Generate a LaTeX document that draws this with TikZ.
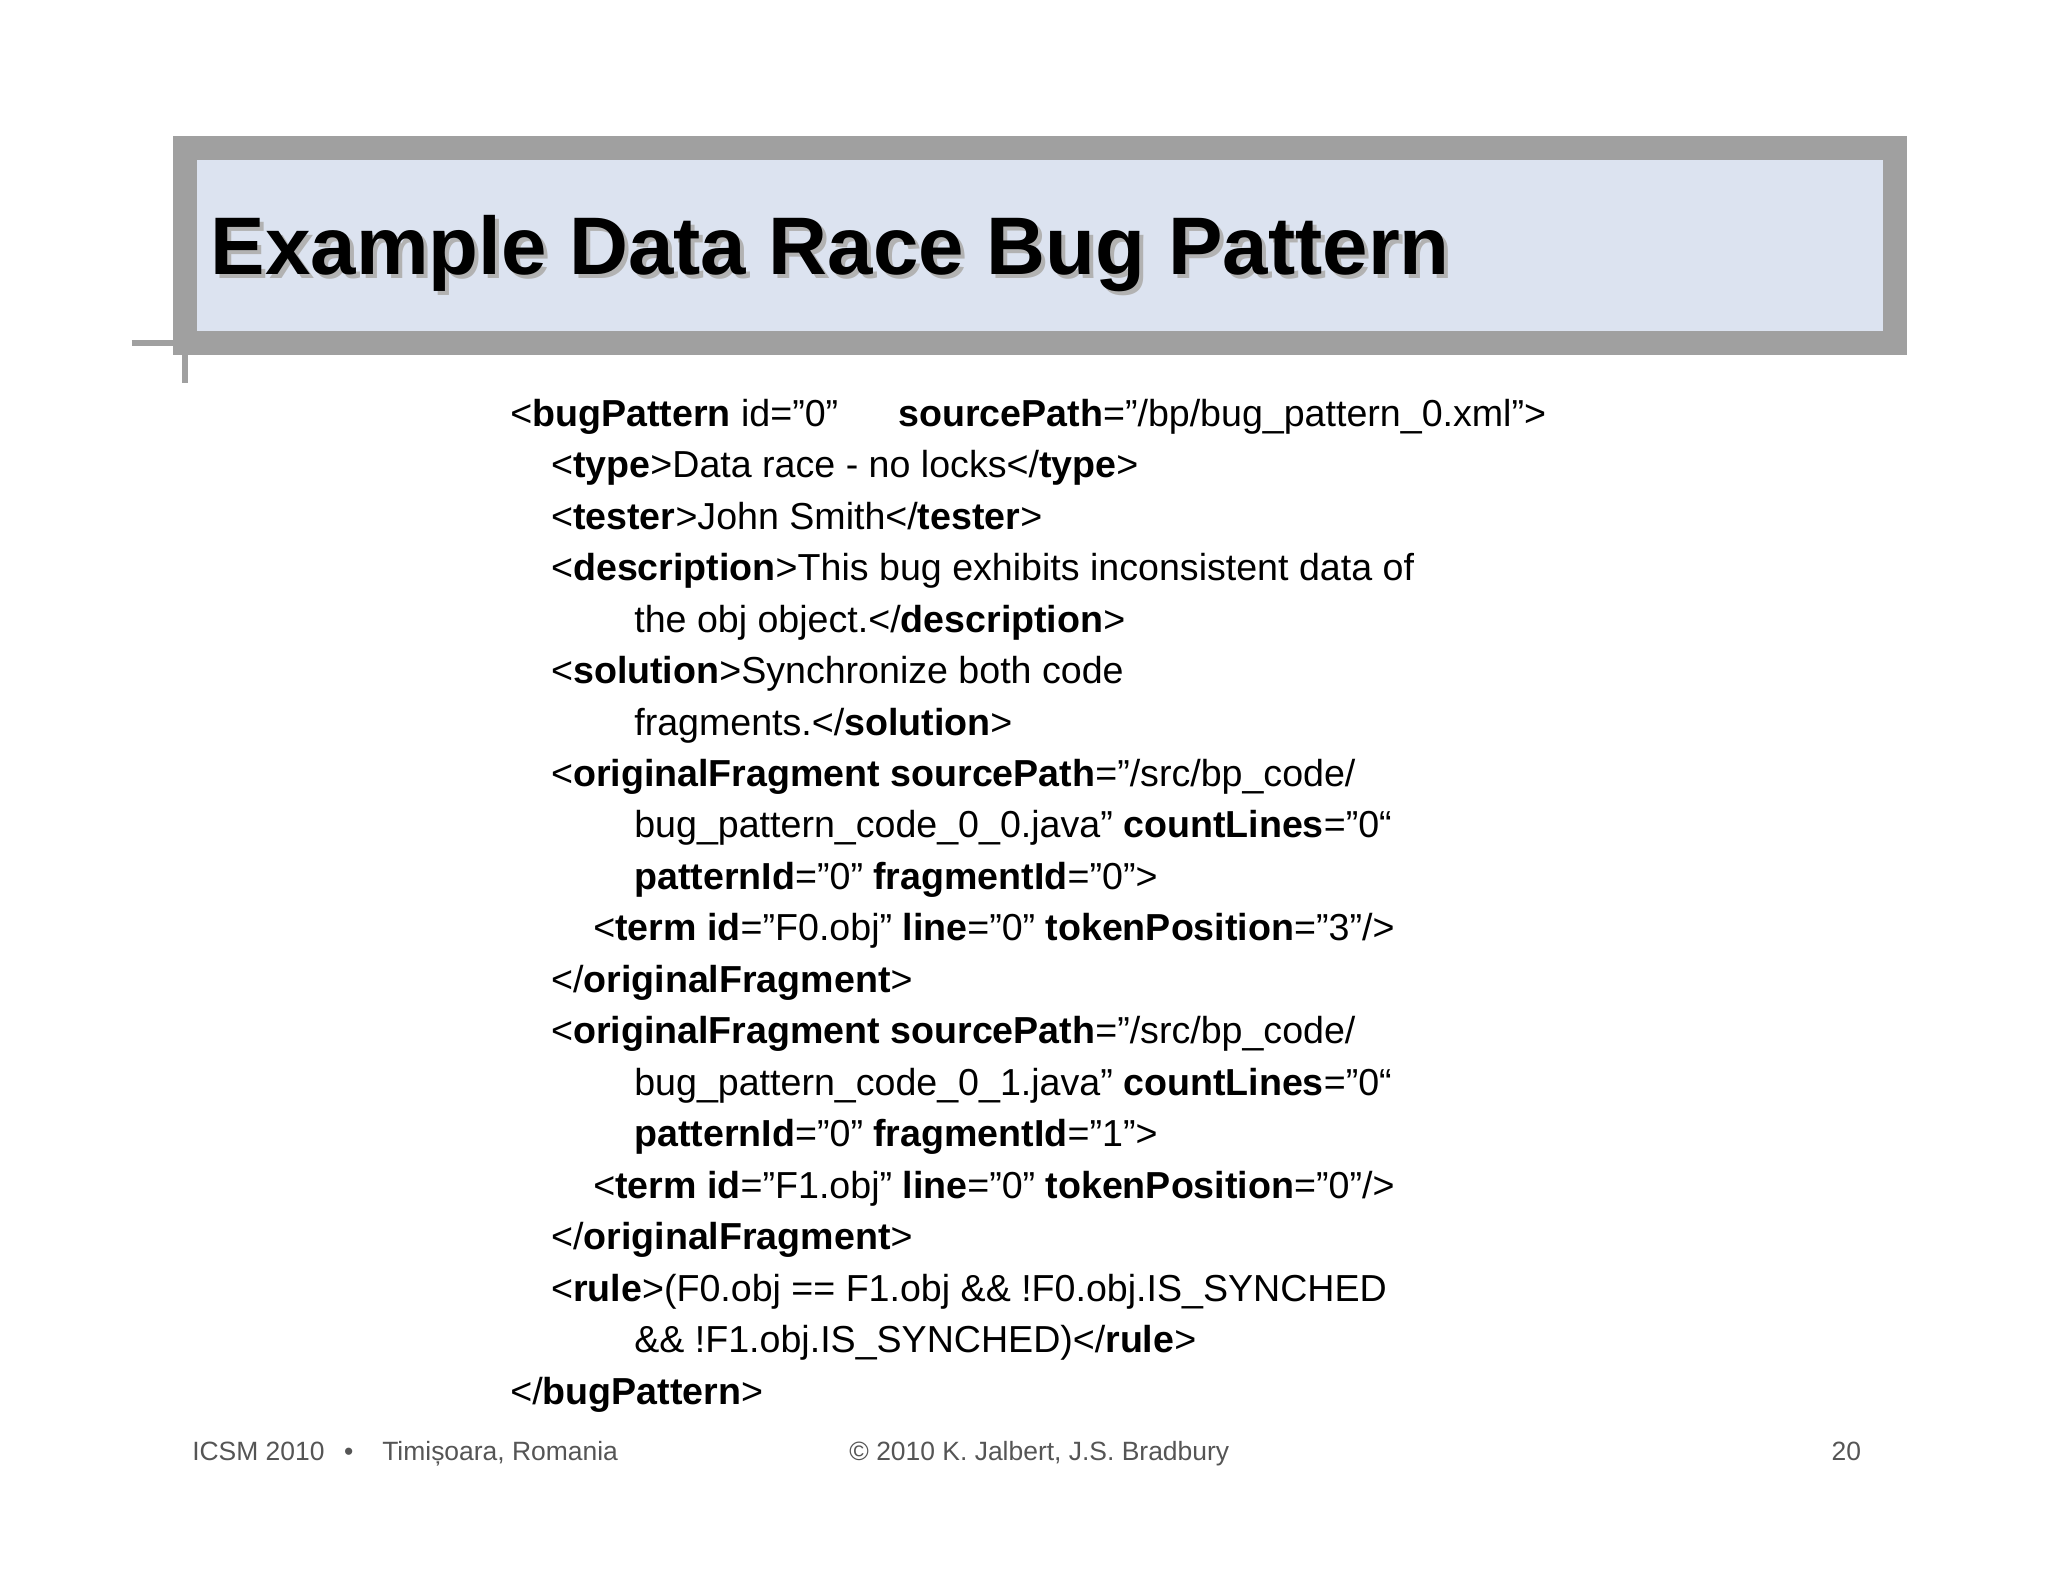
\documentclass[tikz,border=0pt]{standalone}
\usepackage{fontspec}
\setmainfont{Liberation Sans}
\definecolor{titlefill}{HTML}{DCE3F0}
\definecolor{framegray}{HTML}{A0A0A0}
\definecolor{foot}{HTML}{555555}
\begin{document}
\begin{tikzpicture}[x=0.01cm,y=-0.01cm,
  code/.style={anchor=base west,inner sep=0pt,font=\fontsize{8.1pt}{10pt}\selectfont},
  foottext/.style={anchor=base west,inner sep=0pt,text=foot,font=\fontsize{5.7pt}{7pt}\selectfont}]
\useasboundingbox[fill=white] (0,0) rectangle (1552,1199);
\draw[framegray,line width=3\pgflinewidth*1.2,fill=titlefill] (140,112) rectangle (1436,260);
\draw[framegray,line width=1.2mm*0.35] (100,260) -- (1436,260);
\draw[framegray,line width=1.2mm*0.35] (140,112) -- (140,290);
\node[anchor=base west,inner sep=0pt,text=gray!60,font=\bfseries\fontsize{17.6pt}{20pt}\selectfont] at (162,211) {Example Data Race Bug Pattern};
\node[anchor=base west,inner sep=0pt,font=\bfseries\fontsize{17.6pt}{20pt}\selectfont] (title) at (159,208) {Example Data Race Bug Pattern};
\node[code] (l0) at (386,323) {<\textbf{bugPattern} id="0"\hspace{1.6em}\textbf{sourcePath}="/bp/bug\_pattern\_0.xml">};
\node[code] (l1) at (417,362) {<\textbf{type}>Data race - no locks</\textbf{type}>};
\node[code] (l2) at (417,401) {<\textbf{tester}>John Smith</\textbf{tester}>};
\node[code] (l3) at (417,440) {<\textbf{description}>This bug exhibits inconsistent data of};
\node[code] (l4) at (480,479) {the obj object.</\textbf{description}>};
\node[code] (l5) at (417,518) {<\textbf{solution}>Synchronize both code};
\node[code] (l6) at (480,557) {fragments.</\textbf{solution}>};
\node[code] (l7) at (417,596) {<\textbf{originalFragment sourcePath}="/src/bp\_code/};
\node[code] (l8) at (480,635) {bug\_pattern\_code\_0\_0.java" \textbf{countLines}="0“};
\node[code] (l9) at (480,674) {\textbf{patternId}="0" \textbf{fragmentId}="0">};
\node[code] (l10) at (449,713) {<\textbf{term id}="F0.obj" \textbf{line}="0" \textbf{tokenPosition}="3"/>};
\node[code] (l11) at (417,752) {</\textbf{originalFragment}>};
\node[code] (l12) at (417,791) {<\textbf{originalFragment sourcePath}="/src/bp\_code/};
\node[code] (l13) at (480,830) {bug\_pattern\_code\_0\_1.java" \textbf{countLines}="0“};
\node[code] (l14) at (480,869) {\textbf{patternId}="0" \textbf{fragmentId}="1">};
\node[code] (l15) at (449,908) {<\textbf{term id}="F1.obj" \textbf{line}="0" \textbf{tokenPosition}="0"/>};
\node[code] (l16) at (417,947) {</\textbf{originalFragment}>};
\node[code] (l17) at (417,986) {<\textbf{rule}>(F0.obj == F1.obj \&\& !F0.obj.IS\_SYNCHED};
\node[code] (l18) at (480,1025) {\&\& !F1.obj.IS\_SYNCHED)</\textbf{rule}>};
\node[code] (l19) at (386,1064) {</\textbf{bugPattern}>};
\node[foottext] (f1) at (145,1107) {ICSM 2010};
\node[foottext] (f2) at (260,1107) {•};
\node[foottext] (f3) at (289,1107) {Timișoara, Romania};
\node[foottext] (f4) at (643,1107) {© 2010 K. Jalbert, J.S. Bradbury};
\node[foottext,anchor=base east] (f5) at (1411,1107) {20};
\end{tikzpicture}
\end{document}
